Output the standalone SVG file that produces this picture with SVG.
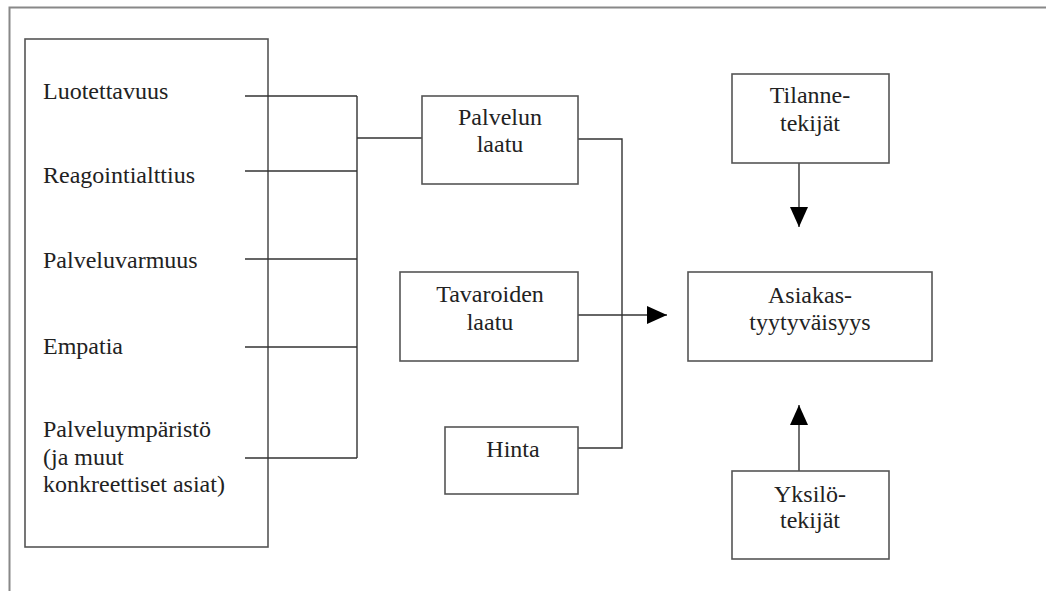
<svg xmlns="http://www.w3.org/2000/svg" width="1046" height="591" viewBox="0 0 1046 591">
<style>
.box{fill:#fff;stroke:#555;stroke-width:1.6}
.ln{fill:none;stroke:#333;stroke-width:1.4}
text{font-size:24px;fill:#222}
.c{text-anchor:middle}
</style>
<defs>
<marker id="ah" viewBox="0 0 20 18" refX="20" refY="9" markerWidth="20" markerHeight="18" markerUnits="userSpaceOnUse" orient="auto">
<path d="M0,0 L20,9 L0,18 Z" fill="#000"/>
</marker>
</defs>
<rect width="1046" height="591" fill="#fff"/>
<g id="frame"><path d="M9.5,591 V7.5 H1046" fill="none" stroke="#888" stroke-width="2"/></g>
<g font-family="'Liberation Serif', 'Times New Roman', serif">
<g id="dimensions">
<rect class="box" x="25" y="39" width="243" height="508"/>
<text x="43" y="99">Luotettavuus</text>
<text x="43" y="183">Reagointialttius</text>
<text x="43" y="268">Palveluvarmuus</text>
<text x="43" y="354">Empatia</text>
<text x="43" y="437">Palveluympäristö</text>
<text x="43" y="465">(ja muut</text>
<text x="43" y="492">konkreettiset asiat)</text>
</g>
<g id="connectors">
<path class="ln" d="M245,96 H357 M245,171 H357 M245,259 H357 M245,347 H357 M245,458 H357 M357,96 V458 M357,138 H423"/>
<path class="ln" d="M578,139 H622 V448 H578"/>
<path class="ln" d="M578,315 H667" marker-end="url(#ah)"/>
<path class="ln" d="M799,163 V227" marker-end="url(#ah)"/>
<path class="ln" d="M799,471 V405" marker-end="url(#ah)"/>
</g>
<g id="palvelun-laatu">
<rect class="box" x="422" y="96" width="156" height="88"/>
<text class="c" x="500" y="125">Palvelun</text>
<text class="c" x="500" y="152">laatu</text>
</g>
<g id="tavaroiden-laatu">
<rect class="box" x="400" y="272" width="178" height="89"/>
<text class="c" x="490" y="302">Tavaroiden</text>
<text class="c" x="490" y="330">laatu</text>
</g>
<g id="hinta">
<rect class="box" x="445" y="427" width="133" height="67"/>
<text class="c" x="513" y="457">Hinta</text>
</g>
<g id="asiakastyytyvaisyys">
<rect class="box" x="688" y="272" width="244" height="89"/>
<text class="c" x="810" y="303">Asiakas-</text>
<text class="c" x="810" y="330">tyytyväisyys</text>
</g>
<g id="tilannetekijat">
<rect class="box" x="732" y="74" width="157" height="89"/>
<text class="c" x="810" y="103">Tilanne-</text>
<text class="c" x="810" y="131">tekijät</text>
</g>
<g id="yksilotekijat">
<rect class="box" x="732" y="471" width="157" height="88"/>
<text class="c" x="810" y="502">Yksilö-</text>
<text class="c" x="810" y="528">tekijät</text>
</g>
</g>
</svg>
